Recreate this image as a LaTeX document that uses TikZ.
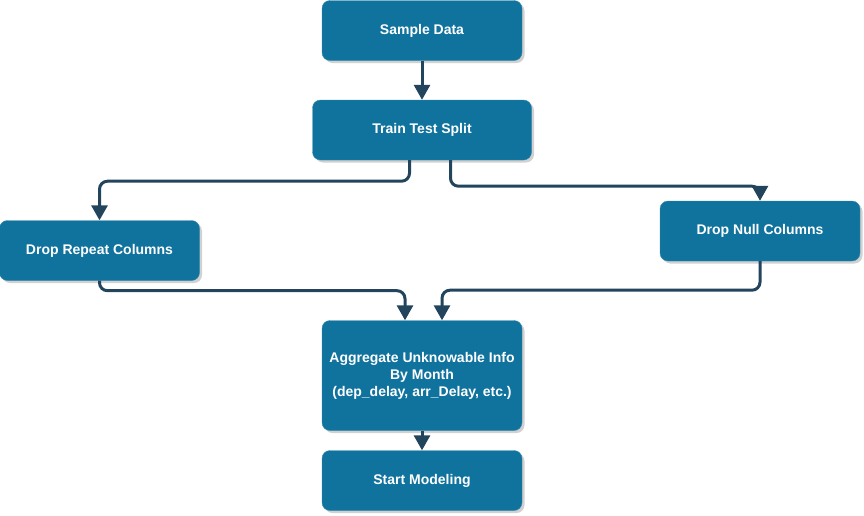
\documentclass[tikz,border=0pt]{standalone}
\usepackage{fontspec}
\setmainfont{Liberation Sans}
\usetikzlibrary{positioning,arrows.meta,shadows}

\definecolor{boxblue}{HTML}{10739E}
\definecolor{linkblue}{HTML}{23445D}

\tikzset{
	stepbox/.style={rectangle, rounded corners=8pt, fill=boxblue, draw=boxblue!85!white,
		text=white, font=\fontsize{14}{17}\selectfont\bfseries, align=center,
		minimum width=200pt, minimum height=60pt, inner sep=0pt,
		drop shadow={shadow xshift=2.5pt, shadow yshift=-2.5pt, fill=black!30, opacity=0.6}},
	link/.style={draw=linkblue, line width=3pt, rounded corners=8pt,
		-{Triangle[width=16pt,length=15pt]}}
}

\begin{document}
\begin{tikzpicture}[node distance=2cm, on grid]
	\useasboundingbox (0,0) rectangle (864pt,-515pt);
	\node[stepbox] (0) at (422pt,-30.5pt) {Sample Data};
	\node[stepbox, minimum width=219pt] (1) [below=99.5pt of 0] {Train Test Split};
	\node[stepbox] (2) [below left=120.5pt and 322.5pt of 1] {Drop Repeat Columns};
	\node[stepbox] (3) [below right=101pt and 338pt of 1] {Drop Null Columns};
	\node[stepbox, minimum height=110pt] (4) [below=245.5pt of 1]
		{Aggregate Unknowable Info\\By Month\\(dep\_delay, arr\_Delay, etc.)};
	\node[stepbox] (5) [below=105pt of 4] {Start Modeling};

	\draw[link] (0) -- (1);
	\draw[link] ([xshift=-12.5pt]1.south) -- ++(0,-21pt) -| (2.north);
	\draw[link] ([xshift=28.5pt]1.south) -- ++(0,-26pt) -| (3.north);
	\draw[link] (2.south) -- ++(0,-10pt) -| ([xshift=-17pt]4.north);
	\draw[link] (3.south) -- ++(0,-29pt) -| ([xshift=20pt]4.north);
	\draw[link] (4) -- (5);
\end{tikzpicture}
\end{document}
